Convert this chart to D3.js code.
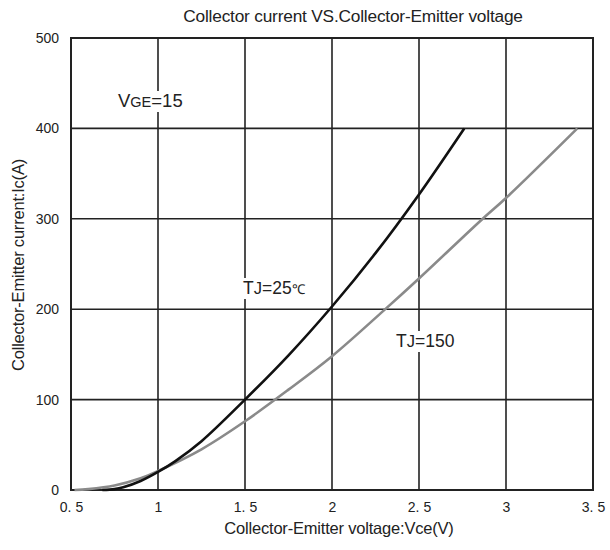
<!DOCTYPE html>
<html><head><meta charset="utf-8">
<script src="https://cdn.jsdelivr.net/npm/d3@7"></script>
<style>body{margin:0;background:#fff}svg{display:block;font-family:"Liberation Sans",Arial,sans-serif}</style>
</head><body><svg id="c" width="610" height="550"></svg>
<script>
const xTicks = [0.5, 1, 1.5, 2, 2.5, 3, 3.5];
const xTickLabels = ["0. 5", "1", "1. 5", "2", "2. 5", "3", "3. 5"];
const yTicks = [0, 100, 200, 300, 400, 500];
const tj25_vce = [0.68, 0.75, 0.8, 0.9, 1.0, 1.1, 1.25, 1.5, 1.75, 2.0, 2.25, 2.5, 2.76];
const tj25_ic  = [0, 1, 3, 10, 20, 32, 54, 100, 149, 203, 262, 327, 400];
const tj150_vce = [0.52, 0.6, 0.75, 0.9, 1.0, 1.25, 1.5, 1.75, 2.0, 2.3, 2.5, 2.86, 3.0, 3.41];
const tj150_ic  = [0, 1, 5, 13, 21, 45, 76, 111, 148, 199, 234, 299, 323, 400];

const svg = d3.select("#c");
const L = 71, R = 593, T = 38, B = 490;
const x = d3.scaleLinear().domain([0.5, 3.5]).range([L, R]);
const y = d3.scaleLinear().domain([0, 500]).range([B, T]);

// grid
const g = svg.append("g");
g.selectAll(".vx").data(xTicks).enter().append("line")
  .attr("x1", d => x(d)).attr("x2", d => x(d)).attr("y1", T).attr("y2", B)
  .attr("stroke", "#222").attr("stroke-width", 1.6);
g.selectAll(".hy").data(yTicks).enter().append("line")
  .attr("y1", d => y(d)).attr("y2", d => y(d)).attr("x1", L).attr("x2", R)
  .attr("stroke", "#222").attr("stroke-width", 1.6);
svg.append("rect").attr("x", L).attr("y", T).attr("width", R - L).attr("height", B - T)
  .attr("fill", "none").attr("stroke", "#222").attr("stroke-width", 2);

// axes labels via d3 axes (lines hidden)
const xa = svg.append("g").attr("transform", `translate(0,${B})`)
  .call(d3.axisBottom(x).tickValues(xTicks).tickSize(0).tickPadding(12)
    .tickFormat((d, i) => xTickLabels[i]));
xa.select(".domain").remove();
xa.selectAll("text").attr("font-size", 14).attr("fill", "#222").attr("font-family", "Liberation Sans, Arial, sans-serif");
const ya = svg.append("g").attr("transform", `translate(${L},0)`)
  .call(d3.axisLeft(y).tickValues(yTicks).tickSize(0).tickPadding(12));
ya.select(".domain").remove();
ya.selectAll("text").attr("font-size", 14).attr("fill", "#222").attr("font-family", "Liberation Sans, Arial, sans-serif");

// curves
const line = d3.line().x(d => x(d[0])).y(d => y(d[1])).curve(d3.curveCatmullRom.alpha(0.5));
const d150 = tj150_vce.map((v, i) => [v, tj150_ic[i]]);
const d25 = tj25_vce.map((v, i) => [v, tj25_ic[i]]);
svg.append("path").datum(d150).attr("d", line).attr("fill", "none")
  .attr("stroke", "#8a8a8a").attr("stroke-width", 2.6);
svg.append("path").datum(d25).attr("d", line).attr("fill", "none")
  .attr("stroke", "#111").attr("stroke-width", 2.6);

// annotations with white backgrounds
function label(px, py, parts, w) {
  svg.append("rect").attr("x", px - 3).attr("y", py - 16).attr("width", w).attr("height", 21).attr("fill", "#fff");
  const t = svg.append("text").attr("x", px).attr("y", py).attr("fill", "#222").attr("font-size", 17);
  parts.forEach(p => t.append("tspan").attr("font-size", p[1]).text(p[0]));
}
label(118, 107, [["V", 18.5], ["GE", 14.5], ["=15", 18.5]], 78);
label(243, 294, [["T", 17.5], ["J", 16.5], ["=25", 17.5], ["℃", 13.5]], 70);
label(396, 347, [["T", 17.5], ["J", 16.5], ["=150", 17.5]], 64);

// titles
svg.append("text").attr("x", 353).attr("y", 22).attr("text-anchor", "middle")
  .attr("font-size", 17.3).attr("letter-spacing", -0.2).attr("fill", "#222")
  .text("Collector current VS.Collector-Emitter voltage");
svg.append("text").attr("x", 339).attr("y", 534).attr("text-anchor", "middle")
  .attr("font-size", 16.5).attr("letter-spacing", -0.2).attr("fill", "#222")
  .text("Collector-Emitter voltage:Vce(V)");
svg.append("text").attr("transform", "translate(24,265) rotate(-90)").attr("text-anchor", "middle")
  .attr("font-size", 16.5).attr("letter-spacing", -0.2).attr("fill", "#222")
  .text("Collector-Emitter current:Ic(A)");
</script></body></html>
